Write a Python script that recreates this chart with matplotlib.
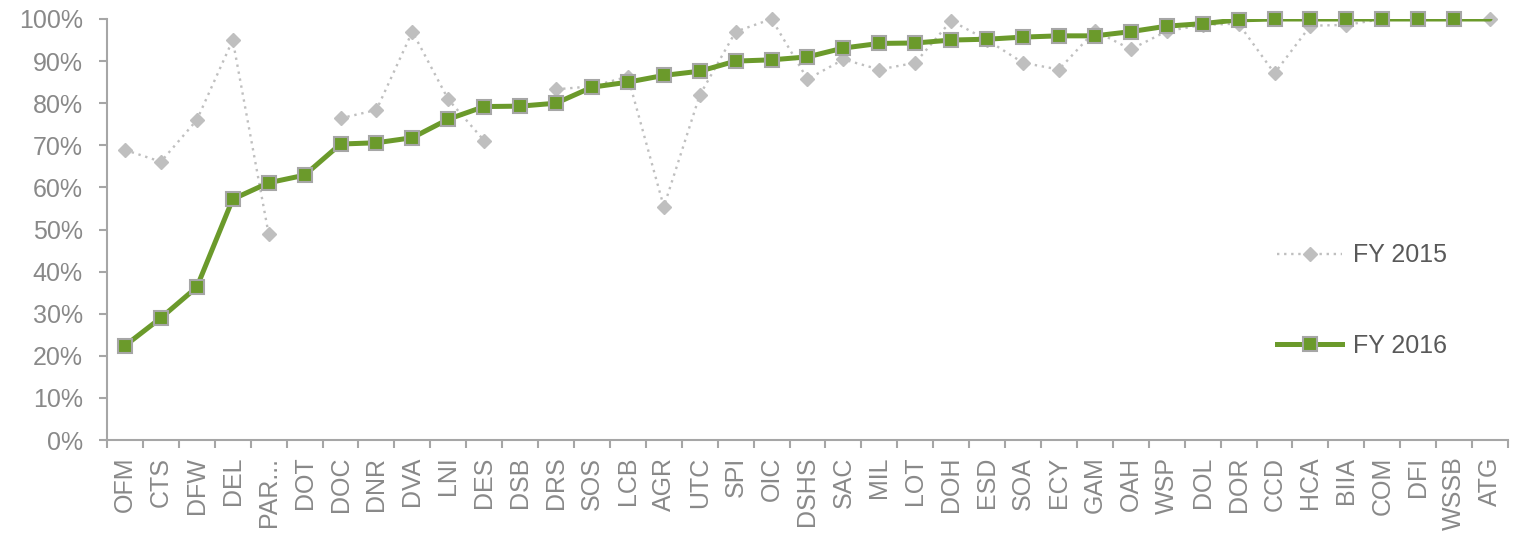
import matplotlib.pyplot as plt
import numpy as np

agencies = ["OFM", "CTS", "DFW", "DEL", "PAR...", "DOT", "DOC", "DNR", "DVA", "LNI",
            "DES", "DSB", "DRS", "SOS", "LCB", "AGR", "UTC", "SPI", "OIC", "DSHS",
            "SAC", "MIL", "LOT", "DOH", "ESD", "SOA", "ECY", "GAM", "OAH", "WSP",
            "DOL", "DOR", "CCD", "HCA", "BIIA", "COM", "DFI", "WSSB", "ATG"]

# percent values, NaN where the agency had no FY 2015 figure
fy2015 = [68.9, 66.1, 76.0, 95.0, 48.9, np.nan, 76.4, 78.4, 97.0, 80.9,
          71.1, np.nan, 83.3, 84.0, 86.3, 55.4, 81.9, 97.0, 100.0, 85.7,
          90.4, 88.0, 89.6, 99.6, 95.0, 89.6, 88.0, 97.2, 92.8, 97.1,
          98.6, 98.9, 87.1, 98.4, 98.6, 100.0, 100.0, 100.0, 100.0]
fy2016 = [22.4, 29.0, 36.3, 57.2, 61.1, 62.9, 70.3, 70.6, 71.8, 76.2,
          79.2, 79.3, 80.0, 83.8, 85.0, 86.6, 87.6, 90.0, 90.3, 91.0,
          93.1, 94.2, 94.3, 95.0, 95.2, 95.7, 96.0, 96.0, 97.0, 98.3,
          98.9, 99.8, 100.0, 100.0, 100.0, 100.0, 100.0, 100.0, 100.0]

label_gray = "#898989"
axis_gray = "#a6a6a6"
green = "#6b9a2b"
light_gray = "#bfbfbf"

plt.rcParams["font.family"] = ["Liberation Sans", "DejaVu Sans"]

x = np.arange(len(agencies))
fig = plt.figure(figsize=(15.19, 5.33), dpi=100)
ax = fig.add_axes([107 / 1519, 1 - 440 / 533, (1508 - 107) / 1519, (440 - 19) / 533])

# FY 2015: dotted grey line, diamonds drawn unclipped on top of it
ax.plot(x, fy2015, linestyle=(0, (1, 2)), color=light_gray, linewidth=1.7, zorder=2)
ax.plot(x, fy2015, linestyle="none", marker="D", markersize=7.5, color=light_gray,
        markeredgecolor=light_gray, clip_on=False, zorder=3)

# FY 2016: thick green line, squares on all but the last point
ax.plot(x, fy2016, color=green, linewidth=3.6, solid_capstyle="round", zorder=4)
ax.plot(x[:-1], fy2016[:-1], linestyle="none", marker="s", markersize=10.5,
        markerfacecolor=green, markeredgecolor=axis_gray, markeredgewidth=1.5,
        clip_on=False, zorder=5)

ax.set_xlim(-0.5, len(agencies) - 0.5)
ax.set_ylim(0, 100)

ax.set_xticks(x)
ax.set_xticklabels(agencies, rotation=90, fontsize=18, color=label_gray)
ax.set_xticks(np.arange(-0.5, len(agencies)), minor=True)
ax.tick_params(axis="x", which="major", length=0, pad=12)
ax.tick_params(axis="x", which="minor", length=5.5, width=1.5, color=axis_gray, direction="out")

ax.set_yticks(np.arange(0, 101, 10))
ax.set_yticklabels([f"{v}%" for v in range(0, 101, 10)], fontsize=18, color=label_gray)
ax.tick_params(axis="y", length=5.5, width=1.5, color=axis_gray, pad=12)

for side in ["top", "right"]:
    ax.spines[side].set_visible(False)
for side in ["left", "bottom"]:
    ax.spines[side].set_color(axis_gray)
    ax.spines[side].set_linewidth(1.5)

h15 = plt.Line2D([], [], linestyle=(0, (1, 2)), color=light_gray, linewidth=1.7,
                 marker="D", markersize=7.5)
h16 = plt.Line2D([], [], color=green, linewidth=3.6, marker="s", markersize=10.5,
                 markerfacecolor=green, markeredgecolor=axis_gray, markeredgewidth=1.5)
fig.legend([h15, h16], ["FY 2015", "FY 2016"], loc="center left",
           bbox_to_anchor=(1277 / 1519, 1 - 300.5 / 533), frameon=False,
           fontsize=18, labelcolor="#595959", handlelength=2.6, handletextpad=0.45,
           labelspacing=2.65, borderpad=0, borderaxespad=0)

plt.savefig("out.png", dpi=100)
plt.close()
